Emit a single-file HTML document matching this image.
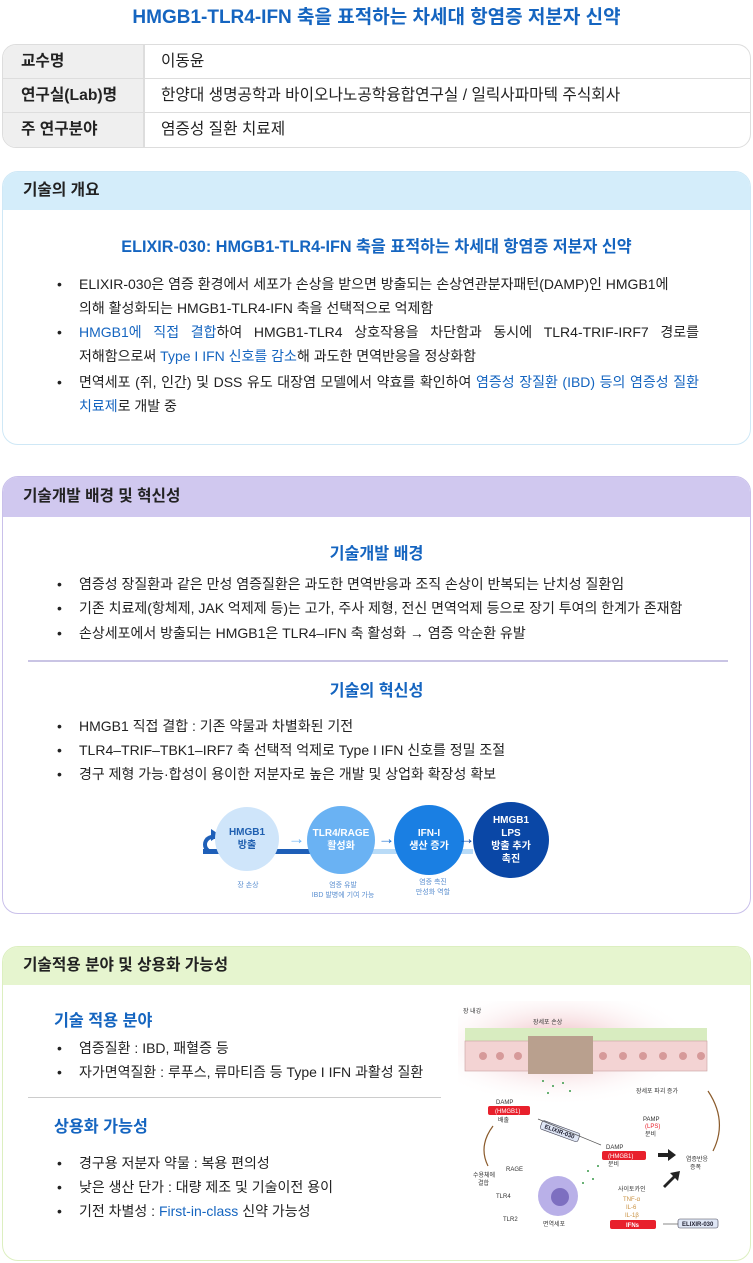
<!DOCTYPE html>
<html><head><meta charset="utf-8"><style>
*{margin:0;padding:0;box-sizing:border-box}
body{width:753px;height:1263px;background:#fff;font-family:"Liberation Sans","Noto Sans CJK KR",sans-serif;color:#222;position:relative;overflow:hidden}
.a{position:absolute}
.title{left:0;width:753px;top:2px;text-align:center;color:#1565c0;font-weight:bold;font-size:19px}
.tbl{left:2px;top:44px;width:749px;height:104px;border:1px solid #ddd;border-radius:14px;overflow:hidden}
.row{position:absolute;left:0;width:100%;height:34px;border-bottom:1px solid #ddd;font-size:15.7px;line-height:34px}
.row .l{position:absolute;left:0;top:0;width:142px;height:100%;background:#efefef;border-right:2px solid #ddd;padding-left:18px;font-weight:bold}
.row .v{position:absolute;left:158px;white-space:nowrap}
.sec{left:2px;width:749px;border-radius:16px;overflow:hidden;border:1px solid}
.hd{position:absolute;left:0;top:0;width:100%;font-size:15.7px;font-weight:bold;padding-left:20px}
.sub{position:absolute;color:#1565c0;font-weight:bold;font-size:16.2px;white-space:nowrap}
.b{position:absolute;font-size:14px;line-height:24px;white-space:nowrap}
.j{white-space:normal;word-break:keep-all}
.b:before{content:"•";position:absolute;left:-22px}
.bl{color:#1565c0}
.c{position:absolute;border-radius:50%;color:#fff;font-weight:bold;font-size:10px;text-align:center;display:flex;align-items:center;justify-content:center;line-height:13px}
.cap{position:absolute;font-size:7px;color:#5b8fd0;text-align:center;line-height:10px}
</style></head><body>
<div class="a title">HMGB1-TLR4-IFN 축을 표적하는 차세대 항염증 저분자 신약</div>
<div class="a tbl">
<div class="row" style="top:0"><div class="l">교수명</div><div class="v">이동윤</div></div>
<div class="row" style="top:34px"><div class="l">연구실(Lab)명</div><div class="v">한양대 생명공학과 바이오나노공학융합연구실 / 일릭사파마텍 주식회사</div></div>
<div class="row" style="top:68px;border-bottom:none"><div class="l">주 연구분야</div><div class="v">염증성 질환 치료제</div></div>
</div>

<div class="a sec" style="top:171px;height:274px;border-color:#cfe8f6">
<div class="hd" style="height:38px;line-height:38px;background:#d4edfa">기술의 개요</div>
<div class="sub" style="left:0;width:100%;text-align:center;top:61px">ELIXIR-030: HMGB1-TLR4-IFN 축을 표적하는 차세대 항염증 저분자 신약</div>
<div class="b j" style="left:76px;width:620px;top:100px;text-align:justify">ELIXIR-030은 염증 환경에서 세포가 손상을 받으면 방출되는 손상연관분자패턴(DAMP)인 HMGB1에<br>의해 활성화되는 HMGB1-TLR4-IFN 축을 선택적으로 억제함</div>
<div class="b j" style="left:76px;width:620px;top:148px;text-align:justify;text-align-last:left"><span class="bl">HMGB1에 직접 결합</span>하여 HMGB1-TLR4 상호작용을 차단함과 동시에 TLR4-TRIF-IRF7 경로를 저해함으로써 <span class="bl">Type I IFN 신호를 감소</span>해 과도한 면역반응을 정상화함</div>
<div class="b j" style="left:76px;width:620px;top:198px;text-align:justify">면역세포 (쥐, 인간) 및 DSS 유도 대장염 모델에서 약효를 확인하여 <span class="bl">염증성 장질환 (IBD) 등의 염증성 질환 치료제</span>로 개발 중</div>
</div>

<div class="a sec" style="top:476px;height:438px;border-color:#c9c0ea">
<div class="hd" style="height:40px;line-height:40px;background:#d0c8ef">기술개발 배경 및 혁신성</div>
<div class="sub" style="left:0;width:100%;text-align:center;top:63px">기술개발 배경</div>
<div class="b" style="left:76px;top:95px">염증성 장질환과 같은 만성 염증질환은 과도한 면역반응과 조직 손상이 반복되는 난치성 질환임</div>
<div class="b" style="left:76px;top:119px">기존 치료제(항체제, JAK 억제제 등)는 고가, 주사 제형, 전신 면역억제 등으로 장기 투여의 한계가 존재함</div>
<div class="b" style="left:76px;top:144px">손상세포에서 방출되는 HMGB1은 TLR4–IFN 축 활성화 → 염증 악순환 유발</div>
<div class="a" style="left:25px;top:183px;width:700px;height:2px;background:#c9c4e4"></div>
<div class="sub" style="left:0;width:100%;text-align:center;top:200px">기술의 혁신성</div>
<div class="b" style="left:76px;top:237px">HMGB1 직접 결합 : 기존 약물과 차별화된 기전</div>
<div class="b" style="left:76px;top:261px">TLR4–TRIF–TBK1–IRF7 축 선택적 억제로 Type I IFN 신호를 정밀 조절</div>
<div class="b" style="left:76px;top:285px">경구 제형 가능·합성이 용이한 저분자로 높은 개발 및 상업화 확장성 확보</div>
<div class="a" style="left:200px;top:372px;width:130px;height:5px;background:#1e5fb8"></div>
<div class="a" style="left:330px;top:372px;width:140px;height:5px;background:#b9dbf7"></div>
<div class="a" style="left:200px;top:358px;width:14px;height:19px;border:4px solid #1e5fb8;border-right:none;border-radius:10px 0 0 10px"></div>
<div class="a" style="left:208px;top:352px;width:0;height:0;border-top:6px solid transparent;border-bottom:6px solid transparent;border-left:9px solid #1e5fb8"></div>
<div class="c" style="left:212px;top:330px;width:64px;height:64px;background:#cfe5fa;color:#1f5fb0">HMGB1<br>방출</div>
<div class="c" style="left:304px;top:329px;width:68px;height:68px;background:#6ab2f3">TLR4/RAGE<br>활성화</div>
<div class="c" style="left:391px;top:328px;width:70px;height:70px;background:#1a7fe3">IFN-I<br>생산 증가</div>
<div class="c" style="left:470px;top:325px;width:76px;height:76px;background:#0a47a6">HMGB1<br>LPS<br>방출 추가<br>촉진</div>
<div class="a" style="left:285px;top:352px;color:#6ab2f3;font-size:17px;font-weight:bold">→</div>
<div class="a" style="left:375px;top:352px;color:#1a6fd0;font-size:17px;font-weight:bold">→</div>
<div class="a" style="left:455px;top:352px;color:#0a47a6;font-size:17px;font-weight:bold">→</div>
<div class="cap" style="left:205px;width:80px;top:404px">장 손상</div>
<div class="cap" style="left:290px;width:100px;top:404px">염증 유발<br>IBD 발병에 기여 가능</div>
<div class="cap" style="left:390px;width:80px;top:401px">염증 촉진<br>만성화 역할</div>
</div>

<div class="a sec" style="top:946px;height:315px;border-color:#dcefc0">
<div class="hd" style="height:38px;line-height:38px;background:#e6f5cf">기술적용 분야 및 상용화 가능성</div>
<div class="sub" style="left:51px;top:60px">기술 적용 분야</div>
<div class="b" style="left:76px;top:89px">염증질환 : IBD, 패혈증 등</div>
<div class="b" style="left:76px;top:113px">자가면역질환 : 루푸스, 류마티즘 등 Type I IFN 과활성 질환</div>
<div class="a" style="left:25px;top:150px;width:413px;height:1px;background:#ccc"></div>
<div class="sub" style="left:51px;top:166px">상용화 가능성</div>
<div class="b" style="left:76px;top:204px">경구용 저분자 약물 : 복용 편의성</div>
<div class="b" style="left:76px;top:228px">낮은 생산 단가 : 대량 제조 및 기술이전 용이</div>
<div class="b" style="left:76px;top:252px">기전 차별성 : <span class="bl">First-in-class</span> 신약 가능성</div>
<svg class="a" style="left:455px;top:54px" width="290" height="240" viewBox="0 0 290 240">
<defs><radialGradient id="g" cx="0.5" cy="0.5" r="0.5"><stop offset="0" stop-color="#e8a0a8" stop-opacity="0.9"/><stop offset="1" stop-color="#fff" stop-opacity="0"/></radialGradient></defs>
<ellipse cx="100" cy="45" rx="140" ry="60" fill="url(#g)"/>
<rect x="7" y="27" width="242" height="15" fill="#d8ecc0"/>
<rect x="7" y="40" width="242" height="30" fill="#f3d3d3" stroke="#c9a0a0" stroke-width="0.6"/>
<g fill="#d69a9a"><circle cx="25" cy="55" r="4"/><circle cx="42" cy="55" r="4"/><circle cx="60" cy="55" r="4"/><circle cx="145" cy="55" r="4"/><circle cx="165" cy="55" r="4"/><circle cx="185" cy="55" r="4"/><circle cx="205" cy="55" r="4"/><circle cx="225" cy="55" r="4"/><circle cx="243" cy="55" r="4"/></g>
<rect x="70" y="35" width="65" height="38" fill="#b9a08e"/>
<text x="5" y="12" font-size="6" fill="#333">장 내강</text>
<text x="75" y="23" font-size="6" fill="#333">장세포 손상</text>
<text x="178" y="92" font-size="6" fill="#333">장세포 파괴 증가</text>
<text x="38" y="103" font-size="6" fill="#333">DAMP</text>
<rect x="30" y="105" width="42" height="9" rx="2" fill="#e8202c"/><text x="37" y="112" font-size="6" fill="#fff">(HMGB1)</text>
<text x="40" y="121" font-size="6" fill="#333">배출</text>
<g transform="rotate(20 100 130)"><rect x="82" y="125" width="40" height="9" rx="2" fill="#dfe6f5" stroke="#445" stroke-width="0.6"/><text x="86" y="132" font-size="6" font-weight="bold" fill="#223">ELIXIR-030</text></g>
<line x1="80" y1="118" x2="143" y2="144" stroke="#555" stroke-width="0.7"/>
<text x="185" y="120" font-size="6" fill="#333">PAMP</text><text x="187" y="127" font-size="6" fill="#e8202c">(LPS)</text><text x="187" y="135" font-size="6" fill="#333">분비</text>
<text x="148" y="148" font-size="6" fill="#333">DAMP</text>
<rect x="144" y="150" width="44" height="9" rx="2" fill="#e8202c"/><text x="150" y="157" font-size="6" fill="#fff">(HMGB1)</text>
<text x="150" y="165" font-size="6" fill="#333">분비</text>
<path d="M200 152 h10 v-4 l8 6 l-8 6 v-4 h-10z" fill="#222"/>
<path d="M205 185 l10 -10 l-3 -3 l10 -2 l-2 10 l-3 -3 l-10 10z" fill="#222"/>
<text x="228" y="160" font-size="6" fill="#333">염증반응</text><text x="232" y="168" font-size="6" fill="#333">증폭</text>
<path d="M255 150 Q270 120 250 90" stroke="#8a5a2a" fill="none" stroke-width="1.2"/>
<path d="M35 125 Q20 145 30 165" stroke="#8a5a2a" fill="none" stroke-width="1.2"/>
<text x="15" y="176" font-size="6" fill="#333">수용체에</text><text x="20" y="184" font-size="6" fill="#333">결합</text>
<text x="48" y="170" font-size="6" fill="#333">RAGE</text><text x="38" y="197" font-size="6" fill="#333">TLR4</text><text x="45" y="220" font-size="6" fill="#333">TLR2</text>
<circle cx="100" cy="195" r="20" fill="#b9b0e8"/><circle cx="102" cy="196" r="9" fill="#7d6fc0"/>
<text x="85" y="225" font-size="6" fill="#333">면역세포</text>
<text x="160" y="190" font-size="6" fill="#333">사이토카인</text>
<text x="165" y="200" font-size="6" fill="#c89040">TNF-α</text><text x="168" y="208" font-size="6" fill="#c89040">IL-6</text><text x="167" y="216" font-size="6" fill="#c89040">IL-1β</text>
<rect x="152" y="219" width="46" height="9" rx="2" fill="#e8202c"/><text x="168" y="226" font-size="6" font-weight="bold" fill="#fff">IFNs</text>
<line x1="205" y1="223" x2="220" y2="223" stroke="#555" stroke-width="0.7"/>
<rect x="220" y="218" width="40" height="9" rx="2" fill="#dfe6f5" stroke="#445" stroke-width="0.6"/><text x="224" y="225" font-size="6" font-weight="bold" fill="#223">ELIXIR-030</text>
<g fill="#3a9a4a"><circle cx="85" cy="80" r="1"/><circle cx="95" cy="85" r="1"/><circle cx="105" cy="82" r="1"/><circle cx="90" cy="92" r="1"/><circle cx="112" cy="90" r="1"/><circle cx="130" cy="170" r="1"/><circle cx="140" cy="165" r="1"/><circle cx="135" cy="178" r="1"/><circle cx="125" cy="182" r="1"/></g>
</svg>
</div>
</body></html>
